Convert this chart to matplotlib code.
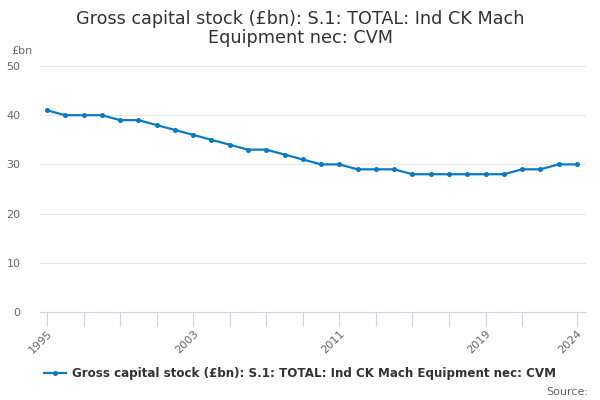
import numpy as np
import matplotlib.pyplot as plt

# data
years = list(range(1995, 2025))
values = [41, 40, 40, 40, 39, 39, 38, 37, 36, 35,
          34, 33, 33, 32, 31, 30, 30, 29, 29, 29,
          28, 28, 28, 28, 28, 28, 29, 29, 30, 30]
tick_years = list(range(1995, 2022, 2)) + [2024]
label_years = [1995, 2003, 2011, 2019, 2024]
series_name = "Gross capital stock (£bn): S.1: TOTAL: Ind CK Mach Equipment nec: CVM"
title = "Gross capital stock (£bn): S.1: TOTAL: Ind CK Mach\nEquipment nec: CVM"

plt.rcParams['font.family'] = ['DejaVu Sans']

fig = plt.figure(figsize=(6, 4), dpi=100)
ax = fig.add_axes([0.0667, 0.22, 0.91, 0.615])

line_col = '#0a7bc1'
ax.plot(years, values, color=line_col, lw=1.6, marker='o', ms=2.6,
        label=series_name)

ax.set_xlim(1994.62, 2024.5)
ax.set_ylim(0, 50)
ax.set_yticks([0, 10, 20, 30, 40, 50])
ax.grid(axis='y', color='#e6e6e6', lw=0.8)
ax.set_axisbelow(True)

for s in ['top', 'right', 'left']:
    ax.spines[s].set_visible(False)
ax.spines['bottom'].set_color('#ccd6eb')

ax.set_xticks(tick_years)
ax.set_xticklabels([str(y) if y in label_years else '' for y in tick_years],
                   rotation=45, ha='right', rotation_mode='anchor')
ax.tick_params(axis='x', colors='#ccd6eb', length=10, width=0.8, labelcolor='#666666',
               labelsize=8, pad=2)
ax.tick_params(axis='y', length=0, labelcolor='#666666', labelsize=8, pad=14)

fig.text(0.5, 0.975, title, ha='center', va='top', fontsize=12.7, color='#333333',
         linespacing=1.05)
fig.text(0.018, 0.86, '£bn', fontsize=8, color='#666666', va='bottom')

leg = fig.legend(loc='center', bbox_to_anchor=(0.5, 0.065), frameon=False,
                 fontsize=8.6, handlelength=1.8, handletextpad=0.5)
for t in leg.get_texts():
    t.set_color('#333333')
    t.set_fontweight('bold')
fig.text(0.98, 0.02, 'Source:', ha='right', va='center', fontsize=8, color='#666666')

fig.savefig('out.png', dpi=100)
